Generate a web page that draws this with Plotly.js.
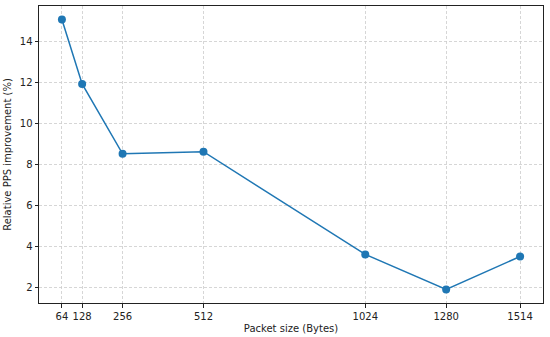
<!DOCTYPE html>
<html>
<head>
<meta charset="utf-8">
<script src="https://cdn.plot.ly/plotly-3.0.1.min.js"></script>
<style>
  html, body { margin: 0; padding: 0; background: #fff; }
  #chart { width: 550px; height: 337px; }
</style>
</head>
<body>
<div id="chart"></div>
<script>
// packet sizes (bytes) and relative PPS improvement (%)
const packetSizes = [64, 128, 256, 512, 1024, 1280, 1514];
const ppsImprovement = [15.07, 11.93, 8.52, 8.62, 3.61, 1.90, 3.51];
const xTickLabels = ["64", "128", "256", "512", "1024", "1280", "1514"];
const yTicks = [2, 4, 6, 8, 10, 12, 14];

const trace = {
  x: packetSizes,
  y: ppsImprovement,
  type: "scatter",
  mode: "lines+markers",
  line: { color: "#1f77b4", width: 1.5 },
  marker: { color: "#1f77b4", size: 8 },
  hoverinfo: "x+y",
};

// shared axis look (matplotlib-ish frame + dashed grid)
const axisStyle = {
  tickmode: "array",
  ticks: "outside",
  ticklen: 3.5,
  tickcolor: "#222",
  showgrid: true,
  gridcolor: "#cccccc",
  griddash: "3px,2px",
  gridwidth: 0.8,
  zeroline: false,
  showline: true,
  linecolor: "#222",
  linewidth: 1,
  mirror: true,
};

const layout = {
  width: 550,
  height: 337,
  margin: { l: 39, r: 7, t: 6, b: 34 },
  paper_bgcolor: "#fff",
  plot_bgcolor: "#fff",
  font: { family: "DejaVu Sans, sans-serif", size: 10, color: "#222" },
  showlegend: false,
  xaxis: Object.assign({}, axisStyle, {
    range: [-8.5, 1586.5],
    tickvals: packetSizes,
    ticktext: xTickLabels,
    title: { text: "Packet size (Bytes)", font: { size: 10 }, standoff: 4 },
  }),
  yaxis: Object.assign({}, axisStyle, {
    range: [1.24, 15.73],
    tickvals: yTicks,
    title: { text: "Relative PPS improvement (%)", font: { size: 10 }, standoff: 6 },
  }),
};

Plotly.newPlot("chart", [trace], layout, { displayModeBar: false, staticPlot: true });
</script>
</body>
</html>
